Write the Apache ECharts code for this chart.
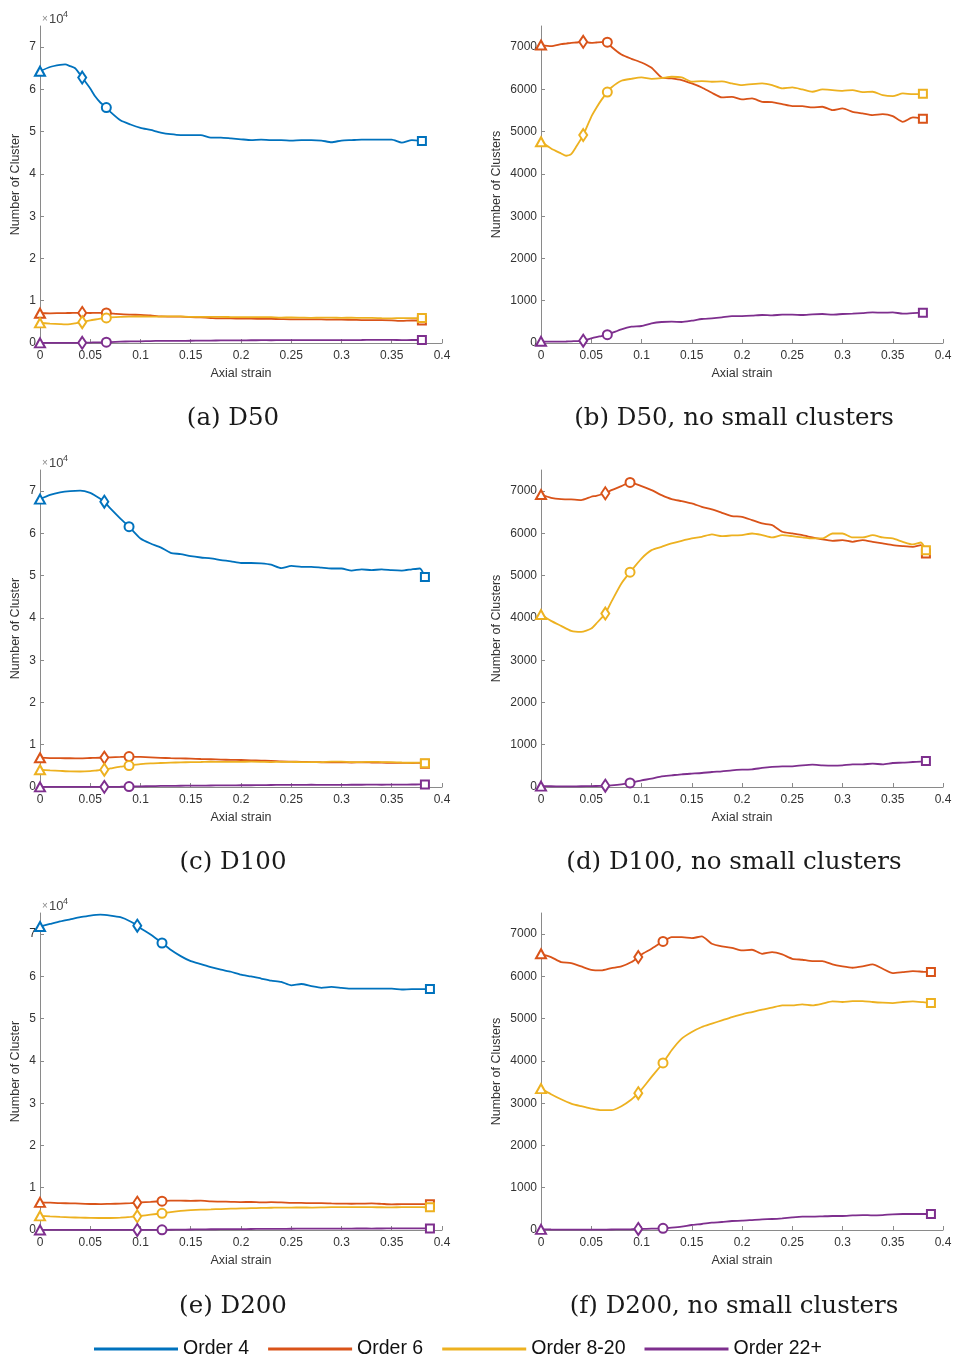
<!DOCTYPE html>
<html><head><meta charset="utf-8">
<script src="https://cdn.jsdelivr.net/npm/echarts@6/dist/echarts.min.js"></script>
<style>html,body{margin:0;padding:0;background:#fff}#c{width:956px;height:1361px}</style>
</head><body><div id="c"></div>
<script>
// ---------- data ----------
const strainD50 = [0,0.01,0.02,0.025,0.03,0.035,0.042,0.05,0.055,0.06,0.066,0.07,0.08,0.09,0.1,0.11,0.12,0.13,0.14,0.15,0.16,0.17,0.18,0.19,0.2,0.21,0.22,0.23,0.24,0.25,0.26,0.27,0.28,0.29,0.3,0.31,0.32,0.33,0.34,0.35,0.36,0.37,0.38];
const order4D50 = [64300,65300,65800,65900,65500,65000,62800,60200,58300,56900,55700,54700,52700,51700,50900,50400,49800,49400,49200,49200,49200,48600,48600,48400,48200,48000,48100,48000,48000,47900,48000,48000,47900,47500,47900,48000,48100,48100,48100,48100,47400,48000,47800];
const order6D50 = [7050,7024,7071,7085,7102,7110,7126,7102,7110,7118,7118,7008,6826,6724,6637,6511,6283,6260,6220,6141,6046,5920,5810,5825,5762,5786,5707,5699,5652,5605,5605,5573,5589,5510,5549,5470,5431,5392,5415,5368,5234,5336,5305];
const order8D50 = [4761,4604,4485,4430,4470,4643,4919,5352,5560,5746,5936,6046,6204,6251,6283,6251,6267,6299,6283,6181,6196,6181,6188,6141,6101,6125,6141,6101,6022,6046,5999,5944,5999,5983,5967,5983,5936,5944,5865,5841,5904,5888,5896];
const order22D50 = [40,32,32,35,40,45,55,110,140,165,197,230,323,386,402,465,497,504,497,528,568,583,607,638,638,646,662,654,670,670,662,678,686,670,686,694,709,725,717,725,694,709,717];
const markersD50 = [0,0.042,0.066,0.38];

const strainD100 = [0,0.01,0.02,0.03,0.04,0.05,0.055,0.064,0.07,0.08,0.0886,0.1,0.11,0.12,0.13,0.14,0.15,0.16,0.17,0.18,0.19,0.2,0.21,0.22,0.23,0.24,0.25,0.26,0.27,0.28,0.29,0.3,0.31,0.32,0.33,0.34,0.35,0.36,0.37,0.378,0.383];
const order4D100 = [68100,69100,69700,70000,70100,69600,68900,67500,65900,63500,61600,58800,57600,56700,55400,55100,54600,54300,54100,53700,53400,53000,53000,52900,52600,51800,52300,52100,52100,51900,51700,51700,51200,51500,51300,51500,51300,51200,51500,51700,49700];
const order6D100 = [6920,6843,6811,6804,6788,6867,6890,6950,7024,7119,7206,7119,7024,6906,6811,6764,6709,6630,6567,6488,6409,6393,6314,6235,6196,6038,5998,5959,5904,5856,5825,5840,5801,5840,5801,5762,5722,5699,5683,5722,5525];
const order8D100 = [4080,3931,3812,3694,3670,3749,3867,4104,4380,4815,5083,5406,5604,5683,5762,5825,5880,5919,5975,5935,5951,5959,5998,5959,5904,5959,5935,5904,5880,5880,5998,5998,5904,5904,5959,5904,5880,5801,5738,5785,5604];
const order22D100 = [20,18,16,16,18,20,24,32,40,63,95,158,197,253,276,300,316,331,355,371,395,410,418,450,474,489,489,513,529,513,505,513,537,537,552,537,568,576,592,600,616];
const markersD100 = [0,0.064,0.0886,0.383];

const strainD200 = [0,0.01,0.02,0.03,0.04,0.05,0.06,0.07,0.08,0.09,0.0968,0.1,0.11,0.1214,0.13,0.14,0.15,0.16,0.17,0.18,0.19,0.2,0.21,0.22,0.23,0.24,0.25,0.26,0.27,0.28,0.29,0.3,0.31,0.32,0.33,0.34,0.35,0.36,0.37,0.38,0.388];
const order4D200 = [71800,72400,73000,73500,74000,74400,74600,74400,74000,73000,72000,71400,69900,67900,66300,64800,63600,62900,62200,61600,61100,60400,60000,59500,59000,58700,57900,58200,57700,57300,57500,57300,57100,57100,57100,57100,57100,56900,57000,57000,57000];
const order6D200 = [6535,6457,6339,6315,6236,6157,6142,6197,6236,6339,6457,6520,6654,6827,6929,6929,6906,6945,6772,6709,6677,6614,6630,6535,6575,6520,6417,6394,6362,6362,6283,6236,6205,6236,6283,6181,6079,6102,6126,6110,6102];
const order8D200 = [3346,3213,3094,2992,2929,2874,2835,2835,2929,3087,3236,3323,3622,3953,4252,4528,4685,4803,4882,4961,5039,5102,5157,5213,5260,5315,5315,5339,5315,5354,5409,5394,5417,5417,5394,5378,5370,5394,5409,5390,5370];
const order22D200 = [16,12,10,10,10,10,10,12,14,18,24,26,32,40,55,79,118,142,173,189,213,220,236,252,260,276,299,315,315,323,331,331,346,354,346,354,370,378,378,378,378];
const markersD200 = [0,0.0968,0.1214,0.388];

const seriesNames = ['Order 4','Order 6','Order 8-20','Order 22+'];
const yTicksAll = [0,10000,20000,30000,40000,50000,60000,70000];
const yTicksLarge = [0,1000,2000,3000,4000,5000,6000,7000];
const captions = [['(a) D50','(b) D50, no small clusters'],['(c) D100','(d) D100, no small clusters'],['(e) D200','(f) D200, no small clusters']];

// ---------- styling / layout ----------
const colors = ['#0072BD','#D95319','#EDB120','#7E2F8E'];
const markerSymbols = ['emptyTriangle','emptyDiamond','emptyCircle','emptyRect'];
const markerSizes = [[10,9],[8,12],[9,9],[8,8]];
const rows = [
  {x: strainD50, s: [order4D50, order6D50, order8D50, order22D50], m: markersD50},
  {x: strainD100, s: [order4D100, order6D100, order8D100, order22D100], m: markersD100},
  {x: strainD200, s: [order4D200, order6D200, order8D200, order22D200], m: markersD200}
];
const gridTops = [26, 470, 913];
const gridLefts = [40, 541];
const captionX = [233, 734];
const captionY = [419, 863, 1307];
const GW = 402, GH = 317;
const FONT = '"Liberation Sans", Arial, Helvetica, sans-serif';
const axisGrey = '#8a8a8a';
const labelColor = '#333';

const grid = [], xAxis = [], yAxis = [], series = [], graphic = [];
function makeData(xs, ys, marks) {
  return xs.map((xv, i) => {
    const k = marks.indexOf(xv);
    return k >= 0 ? {value: [xv, ys[i]], symbol: markerSymbols[k], symbolSize: markerSizes[k]}
                  : {value: [xv, ys[i]], symbol: 'none'};
  });
}
rows.forEach((row, r) => {
  for (let c = 0; c < 2; c++) {
    const gi = grid.length;
    grid.push({left: gridLefts[c], top: gridTops[r], width: GW, height: GH, containLabel: false});
    xAxis.push({
      type: 'value', gridIndex: gi, min: 0, max: 0.4, interval: 0.05,
      axisLine: {show: true, lineStyle: {color: axisGrey, width: 1}},
      axisTick: {show: true, inside: true, length: 4, lineStyle: {color: axisGrey}},
      axisLabel: {color: labelColor, fontSize: 12, fontFamily: FONT, margin: 7},
      splitLine: {show: false},
      name: 'Axial strain', nameLocation: 'middle', nameGap: 24,
      nameTextStyle: {color: labelColor, fontSize: 12.5, fontFamily: FONT}
    });
    const isAll = c === 0;
    const ticks = isAll ? yTicksAll : yTicksLarge;
    yAxis.push({
      type: 'value', gridIndex: gi, min: 0, max: isAll ? 75000 : 7500,
      axisLine: {show: true, lineStyle: {color: axisGrey, width: 1}},
      axisTick: {show: true, inside: true, length: 4, customValues: ticks, lineStyle: {color: axisGrey}},
      axisLabel: {color: labelColor, fontSize: 12, fontFamily: FONT, margin: 4, customValues: ticks,
        formatter: v => isAll ? String(v / 10000) : String(v)},
      splitLine: {show: false},
      name: isAll ? 'Number of Cluster' : 'Number of Clusters',
      nameLocation: 'middle', nameRotate: 90, nameGap: isAll ? 18 : 38,
      nameTextStyle: {color: labelColor, fontSize: 12.5, fontFamily: FONT}
    });
    const start = isAll ? 0 : 1;
    for (let k = start; k < 4; k++) {
      series.push({
        type: 'line', name: seriesNames[k], xAxisIndex: gi, yAxisIndex: gi,
        data: makeData(row.x, row.s[k], row.m),
        smooth: 0.2, showSymbol: true, showAllSymbol: true, symbolSize: 9,
        lineStyle: {width: 1.8, color: colors[k]},
        itemStyle: {color: colors[k], borderWidth: 1.4},
        emphasis: {disabled: true}, z: 2 + k
      });
    }
    graphic.push({type: 'text', x: captionX[c], y: captionY[r], silent: true,
      style: {text: captions[r][c], font: '24.5px "DejaVu Serif", "Liberation Serif", serif', fill: '#1a1a1a',
        align: 'center', verticalAlign: 'middle', textAlign: 'center', textVerticalAlign: 'middle'}});
    if (isAll) {
      graphic.push({type: 'text', x: 42, y: gridTops[r] - 7, silent: true,
        style: {text: '×', font: '10px ' + FONT, fill: '#8a8a8a', verticalAlign: 'middle', textVerticalAlign: 'middle'}});
      graphic.push({type: 'text', x: 49, y: gridTops[r] - 7, silent: true,
        style: {text: '10', font: '13px ' + FONT, fill: '#444', verticalAlign: 'middle', textVerticalAlign: 'middle'}});
      graphic.push({type: 'text', x: 63, y: gridTops[r] - 11, silent: true,
        style: {text: '4', font: '9px ' + FONT, fill: '#444', verticalAlign: 'middle', textVerticalAlign: 'middle'}});
    }
  }
});

const chart = echarts.init(document.getElementById('c'), null, {renderer: 'canvas'});
chart.setOption({
  animation: false,
  backgroundColor: '#fff',
  grid, xAxis, yAxis, series, graphic,
  legend: {
    data: seriesNames, left: 89, top: 1334, icon: 'rect',
    itemWidth: 84, itemHeight: 3, itemGap: 19,
    textStyle: {fontSize: 19.5, fontFamily: FONT, color: '#111'},
    selectedMode: false
  }
});
</script>
</body></html>
